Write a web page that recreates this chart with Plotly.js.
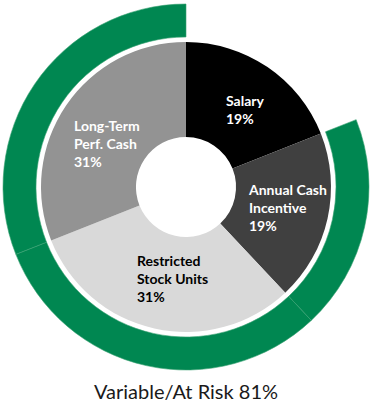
<!DOCTYPE html>
<html>
<head>
<meta charset="utf-8">
<script src="https://cdn.plot.ly/plotly-3.0.1.min.js"></script>
<style>html,body{margin:0;padding:0;background:#fff;}#chart{width:372px;height:405px;}</style>
</head>
<body>
<div id="chart"></div>
<script>
const categories = ['Salary', 'Annual Cash Incentive', 'Restricted Stock Units', 'Long-Term Perf. Cash'];
const labelLines = ['Salary', 'Annual Cash<br>Incentive', 'Restricted<br>Stock Units', 'Long-Term<br>Perf. Cash'];
const values = [19, 19, 31, 31];
const isVariable = [false, true, true, true];
const variableLabel = 'Variable/At Risk';
const variableTotal = 81;

const innerColors = ['#000000', '#404040', '#d9d9d9', '#939393'];
const textColors = ['#ffffff', '#ffffff', '#000000', '#ffffff'];
const green = '#008751';

const W = 372, H = 405;
const cx = 186, cy = 187;
const rIn = 145, rOut = 183;

function dom(r) {
  return {
    x: [(cx - r) / W, (cx + r) / W],
    y: [(H - cy - r) / H, (H - cy + r) / H]
  };
}

const inner = {
  type: 'pie',
  values: values,
  labels: categories,
  sort: false,
  direction: 'clockwise',
  rotation: 0,
  hole: 0.345,
  marker: {colors: innerColors, line: {width: 0}},
  textinfo: 'none',
  hoverinfo: 'label+percent',
  domain: dom(rIn),
  showlegend: false
};

const outer = {
  type: 'pie',
  values: values,
  labels: categories.map(c => c + ' (ring)'),
  sort: false,
  direction: 'clockwise',
  rotation: 0,
  hole: 150 / rOut,
  marker: {
    colors: isVariable.map(v => v ? green : 'rgba(0,0,0,0)'),
    line: {width: 0.6, color: isVariable.map(v => v ? '#3aa274' : 'rgba(0,0,0,0)')}
  },
  textinfo: 'none',
  hoverinfo: 'skip',
  domain: dom(rOut),
  showlegend: false
};

// label anchor positions (left edge, vertical middle of text block) in pixels
const labelPos = [[224, 109], [246, 208], [135, 278], [72, 143]];

const annotations = labelLines.map((t, i) => ({
  text: '<b>' + t + '<br>' + values[i] + '%</b>',
  x: labelPos[i][0] / W,
  y: (H - labelPos[i][1]) / H,
  xref: 'paper', yref: 'paper',
  xanchor: 'left', yanchor: 'middle',
  align: 'left',
  showarrow: false,
  font: {family: 'Lato, "Open Sans", sans-serif', size: 14, color: textColors[i]}
}));

annotations.push({
  text: variableLabel + ' ' + variableTotal + '%',
  x: 0.5, y: (H - 391) / H,
  xref: 'paper', yref: 'paper',
  xanchor: 'center', yanchor: 'middle',
  showarrow: false,
  font: {family: 'Lato, "Open Sans", sans-serif', size: 20, color: '#1a1a1a'}
});

Plotly.newPlot('chart', [outer, inner], {
  width: W, height: H,
  margin: {l: 0, r: 0, t: 0, b: 0},
  paper_bgcolor: '#ffffff',
  showlegend: false,
  annotations: annotations
}, {displayModeBar: false, staticPlot: true});
</script>
</body>
</html>
